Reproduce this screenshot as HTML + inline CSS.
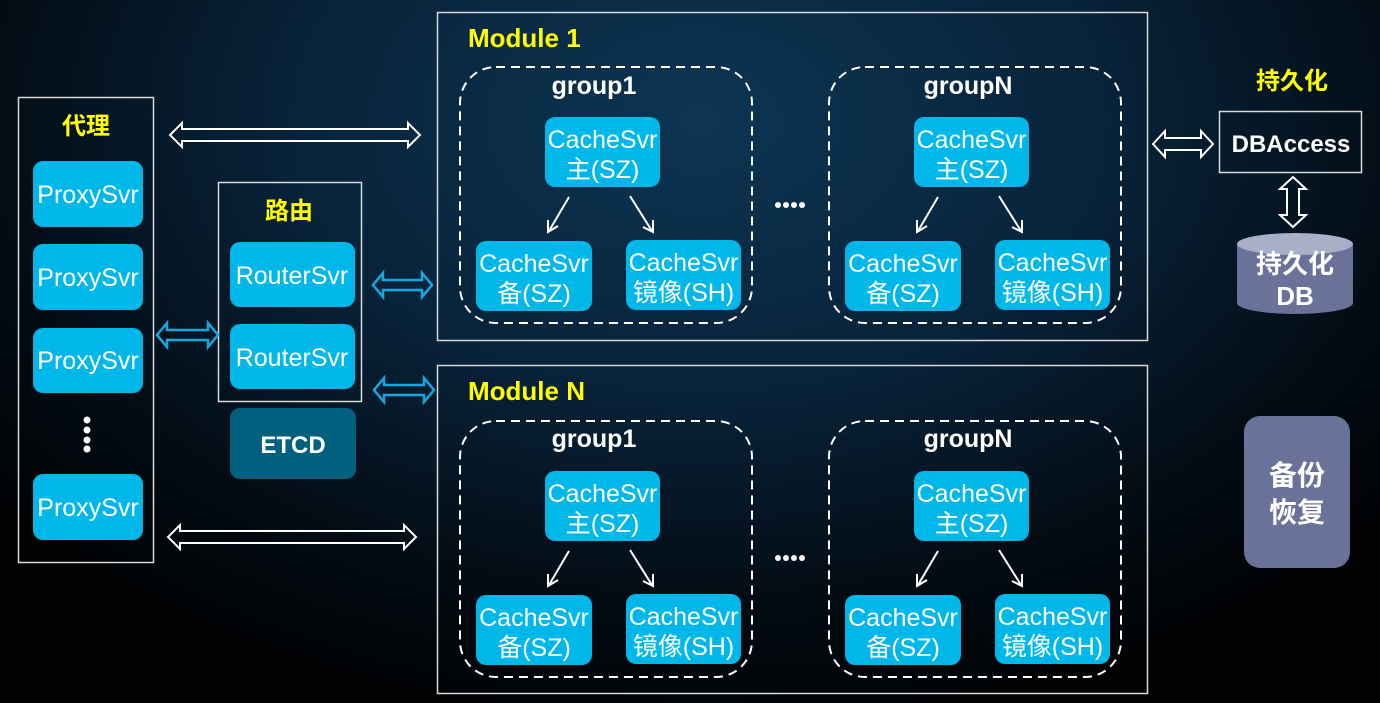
<!DOCTYPE html>
<html><head><meta charset="utf-8"><style>
html,body{margin:0;padding:0;}
body{width:1380px;height:703px;overflow:hidden;background:radial-gradient(ellipse 900px 600px at 700px 120px,#0d3553 0%,#08233a 45%,#030c14 80%,#010305 100%);}
svg{position:absolute;left:0;top:0;font-family:"Liberation Sans","Noto Sans CJK SC",sans-serif;}
</style></head><body>
<svg width="1380" height="703" viewBox="0 0 1380 703">
<defs>
<g id="grp">
<rect x="23" y="55" width="292" height="256" rx="36" fill="none" stroke="#fff" stroke-width="2" stroke-dasharray="9,6"/>
<rect x="108" y="105" width="115" height="70" rx="10" fill="#00b7ea"/>
<text x="165.5" y="136" fill="#fff" font-size="25" text-anchor="middle">CacheSvr</text>
<text x="165.5" y="166" fill="#fff" font-size="25" text-anchor="middle">主(SZ)</text>
<rect x="39" y="229" width="116" height="70" rx="10" fill="#00b7ea"/>
<text x="97" y="260" fill="#fff" font-size="25" text-anchor="middle">CacheSvr</text>
<text x="97" y="290" fill="#fff" font-size="25" text-anchor="middle">备(SZ)</text>
<rect x="189" y="228" width="115" height="70" rx="10" fill="#00b7ea"/>
<text x="246.5" y="259" fill="#fff" font-size="25" text-anchor="middle">CacheSvr</text>
<text x="246.5" y="289" fill="#fff" font-size="25" text-anchor="middle">镜像(SH)</text>
<line x1="132" y1="185" x2="112" y2="219" stroke="#fff" stroke-width="2"/>
<polyline points="111,208 111,220 121,214" fill="none" stroke="#fff" stroke-width="2"/>
<line x1="193" y1="184" x2="215" y2="219" stroke="#fff" stroke-width="2"/>
<polyline points="206,215 216,220 216,208" fill="none" stroke="#fff" stroke-width="2"/>
</g>
</defs>
<!-- proxy -->
<rect x="18.5" y="97.5" width="135" height="465" fill="none" stroke="#d8d8d8" stroke-width="1.5"/>
<text x="86" y="134" fill="#ffff00" font-size="24" font-weight="bold" text-anchor="middle">代理</text>
<g fill="#00b7ea">
<rect x="33" y="161" width="110" height="66" rx="10"/>
<rect x="33" y="244" width="110" height="66" rx="10"/>
<rect x="33" y="328" width="110" height="65" rx="10"/>
<rect x="33" y="474" width="110" height="66" rx="10"/>
</g>
<g fill="#fff" font-size="25" text-anchor="middle">
<text x="88" y="203">ProxySvr</text>
<text x="88" y="286">ProxySvr</text>
<text x="88" y="369">ProxySvr</text>
<text x="88" y="516">ProxySvr</text>
</g>
<g fill="#fff"><circle cx="87" cy="420" r="3.5"/><circle cx="87" cy="430" r="3.5"/><circle cx="87" cy="440" r="3.5"/><circle cx="87" cy="449" r="3.5"/></g>
<!-- router -->
<rect x="218.5" y="182.5" width="143" height="219" fill="none" stroke="#d8d8d8" stroke-width="1.5"/>
<text x="289" y="219" fill="#ffff00" font-size="24" font-weight="bold" text-anchor="middle">路由</text>
<rect x="230" y="242" width="125" height="65" rx="10" fill="#00b7ea"/>
<rect x="230" y="324" width="125" height="65" rx="10" fill="#00b7ea"/>
<text x="292" y="284" fill="#fff" font-size="25" text-anchor="middle">RouterSvr</text>
<text x="292" y="366" fill="#fff" font-size="25" text-anchor="middle">RouterSvr</text>
<rect x="230" y="408" width="126" height="71" rx="10" fill="#02607f"/>
<text x="293" y="453" fill="#fff" font-size="24" font-weight="bold" text-anchor="middle">ETCD</text>
<!-- arrows -->
<g fill="none" stroke="#fff" stroke-width="2">
<path d="M170 135 L182 123 L182 129 L408 129 L408 123 L420 135 L408 147 L408 141 L182 141 L182 147 Z"/>
<path d="M168 537 L180 525 L180 531 L404 531 L404 525 L416 537 L404 549 L404 543 L180 543 L180 549 Z"/>
<path d="M1153 144 L1165 131 L1165 138 L1201 138 L1201 131 L1213 144 L1201 157 L1201 150 L1165 150 L1165 157 Z"/>
<path d="M1293 177 L1306 189 L1299 189 L1299 215 L1306 215 L1293 227 L1280 215 L1287 215 L1287 189 L1280 189 Z"/>
</g>
<g fill="none" stroke="#14a8e0" stroke-width="2.5">
<path d="M157 335 L167 323 L167 330 L208 330 L208 323 L218 335 L208 347 L208 340 L167 340 L167 347 Z"/>
<path d="M373 285 L383 273 L383 280 L422 280 L422 273 L432 285 L422 297 L422 290 L383 290 L383 297 Z"/>
<path d="M374 390 L384 378 L384 385 L424 385 L424 378 L434 390 L424 402 L424 395 L384 395 L384 402 Z"/>
</g>
<!-- modules -->
<rect x="437.5" y="12.5" width="710" height="328" fill="none" stroke="#d8d8d8" stroke-width="1.5"/>
<rect x="437.5" y="365.5" width="710" height="328" fill="none" stroke="#d8d8d8" stroke-width="1.5"/>
<text x="468" y="47" fill="#ffff00" font-size="26" font-weight="bold">Module 1</text>
<text x="468" y="400" fill="#ffff00" font-size="26" font-weight="bold">Module N</text>
<use href="#grp" x="437" y="12"/>
<use href="#grp" x="806" y="12"/>
<use href="#grp" x="437" y="366"/>
<use href="#grp" x="806" y="366"/>
<g fill="#fff" font-size="25" font-weight="bold" text-anchor="middle">
<text x="594" y="94">group1</text>
<text x="968" y="94">groupN</text>
<text x="594" y="447">group1</text>
<text x="968" y="447">groupN</text>
</g>
<g fill="#fff">
<circle cx="778" cy="205" r="3"/><circle cx="786" cy="205" r="3"/><circle cx="794" cy="205" r="3"/><circle cx="802" cy="205" r="3"/>
<circle cx="778" cy="558" r="3"/><circle cx="786" cy="558" r="3"/><circle cx="794" cy="558" r="3"/><circle cx="802" cy="558" r="3"/>
</g>
<!-- persistence -->
<text x="1292" y="89" fill="#ffff00" font-size="24" font-weight="bold" text-anchor="middle">持久化</text>
<rect x="1219.5" y="111.5" width="142" height="61" fill="none" stroke="#d8d8d8" stroke-width="1.5"/>
<text x="1291" y="152" fill="#fff" font-size="24" font-weight="bold" text-anchor="middle">DBAccess</text>
<path d="M1237 244 L1237 303 A58 11 0 0 0 1353 303 L1353 244 Z" fill="#6b7299"/>
<ellipse cx="1295" cy="244" rx="58" ry="11" fill="#a8afc8"/>
<text x="1295" y="273" fill="#fff" font-size="26" font-weight="bold" text-anchor="middle">持久化</text>
<text x="1295" y="305" fill="#fff" font-size="26" font-weight="bold" text-anchor="middle">DB</text>
<rect x="1244" y="416" width="106" height="152" rx="16" fill="#6b7299"/>
<text x="1297" y="485" fill="#fff" font-size="28" font-weight="bold" text-anchor="middle">备份</text>
<text x="1297" y="522" fill="#fff" font-size="28" font-weight="bold" text-anchor="middle">恢复</text>
</svg>
</body></html>
